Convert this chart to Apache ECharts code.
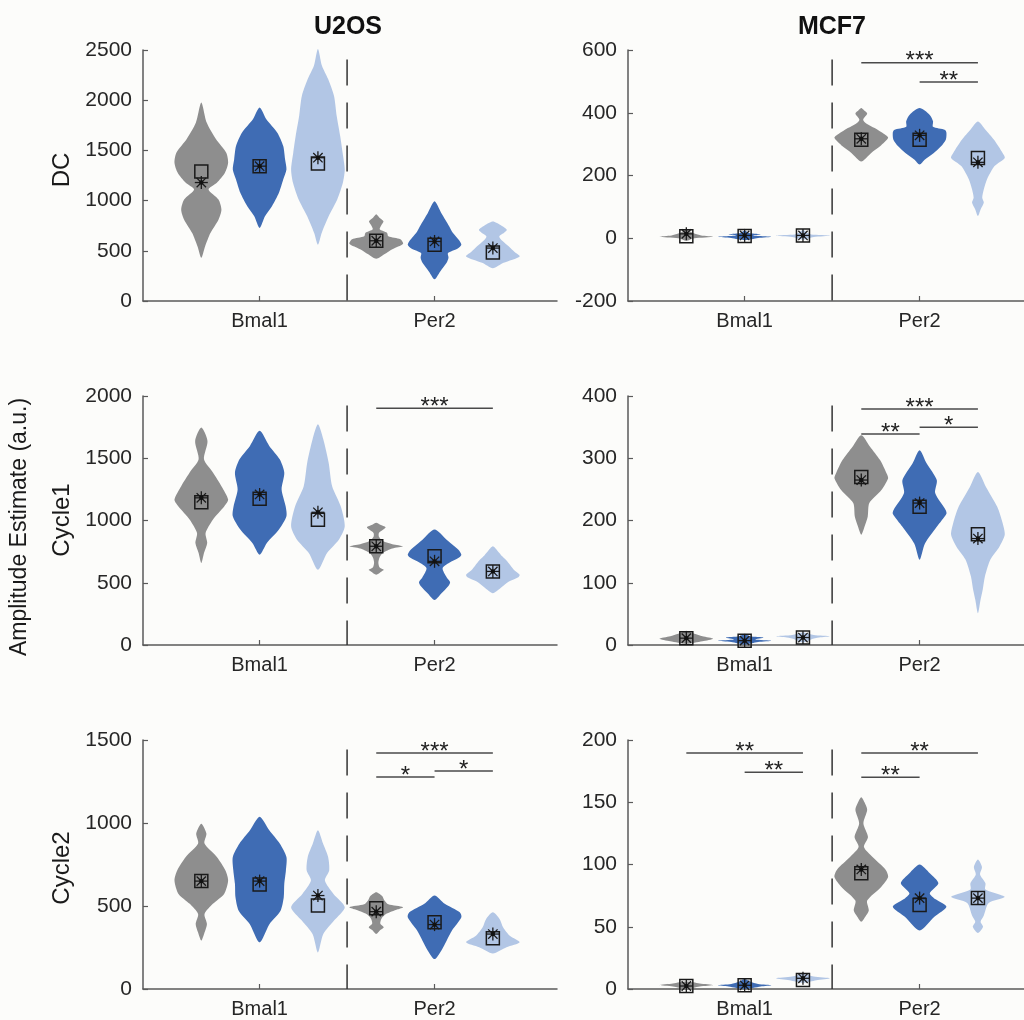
<!DOCTYPE html>
<html><head><meta charset="utf-8">
<script src="https://cdn.jsdelivr.net/npm/echarts@6/dist/echarts.min.js"></script>
<style>html,body{margin:0;padding:0;background:#fcfcfa}#c{width:1024px;height:1020px}</style>
</head><body><div id="c"></div>
<script>
// ---------- data ----------
const cellLines = ['U2OS', 'MCF7'];
const rowLabels = ['DC', 'Cycle1', 'Cycle2'];
const yLabel = 'Amplitude Estimate (a.u.)';
const genes = ['Bmal1', 'Per2'];
const genePos = [2, 5];
const violinPos = [1, 2, 3, 4, 5, 6];
const dividerPos = 3.5;

// y axis ranges [min, max, interval] per panel
const yRange_U2OS_DC = [0, 2500, 500];
const yRange_MCF7_DC = [-200, 600, 200];
const yRange_U2OS_C1 = [0, 2000, 500];
const yRange_MCF7_C1 = [0, 400, 100];
const yRange_U2OS_C2 = [0, 1500, 500];
const yRange_MCF7_C2 = [0, 200, 50];

// violin density profiles: [value, relative half width]
const violins_U2OS_DC = [
  [[430,0],[543,0.14],[677,0.34],[810,0.64],[910,0.75],[1010,0.64],[1110,0.27],[1177,0.58],[1277,0.88],[1377,1.0],[1477,0.93],[1610,0.55],[1777,0.2],[1977,0]],
  [[727,0],[843,0.2],[943,0.46],[1077,0.72],[1210,0.88],[1310,1.0],[1410,0.95],[1543,0.88],[1677,0.66],[1810,0.25],[1927,0]],
  [[560,0],[677,0.14],[843,0.4],[1010,0.72],[1177,0.93],[1310,1.0],[1477,0.92],[1643,0.83],[1843,0.7],[2043,0.6],[2210,0.38],[2343,0.15],[2510,0]],
  [[420,0],[465,0.3],[515,0.6],[570,1.0],[615,0.9],[645,0.45],[680,0.4],[715,0.13],[760,0.2],[795,0.27],[830,0.12],[865,0]],
  [[217,0],[290,0.2],[380,0.45],[430,0.52],[477,0.5],[520,0.85],[560,1.0],[610,0.9],[680,0.68],[743,0.55],[810,0.4],[877,0.25],[993,0]],
  [[327,0],[380,0.4],[443,1.0],[490,0.8],[543,0.6],[600,0.35],[643,0.24],[680,0.42],[710,0.52],[755,0.3],[793,0]]
];
const medians_U2OS_DC = [1290, 1343, 1370, 600, 560, 483];
const means_U2OS_DC   = [1180, 1343, 1427, 600, 593, 527];
const sig_U2OS_DC = [];

const violins_MCF7_DC = [
  [[-8,0],[0,0.3],[5,1.0],[9,0.55],[15,0.3],[24,0.1],[30,0]],
  [[-6,0],[1,0.5],[5,1.0],[9,0.3],[13,0.6],[16,0.2],[24,0]],
  [[-4,0],[4,0.4],[9,1.0],[12,0.3],[18,0.15],[26,0]],
  [[245,0],[272,0.37],[293,0.7],[320,1.0],[332,0.85],[351,0.5],[365,0.2],[378,0.07],[398,0.22],[408,0.1],[415,0]],
  [[235,0],[251,0.2],[272,0.53],[293,0.8],[315,0.98],[336,1.0],[345,0.95],[355,0.5],[373,0.5],[394,0.37],[415,0]],
  [[71,0],[92,0.1],[114,0.22],[129,0.16],[156,0.22],[188,0.34],[230,0.62],[256,1.0],[272,0.92],[314,0.6],[346,0.28],[372,0]]
];
const medians_MCF7_DC = [6, 7, 9, 314, 314, 256];
const means_MCF7_DC   = [14, 9, 9, 317, 328, 242];
const sig_MCF7_DC = [[4, 6, 559, '***'], [5, 6, 498, '**']];

const violins_U2OS_C1 = [
  [[658,0],[739,0.1],[819,0.22],[900,0.16],[1007,0.43],[1115,0.86],[1169,1.0],[1276,0.75],[1384,0.44],[1491,0.1],[1639,0.23],[1746,0]],
  [[725,0],[819,0.27],[927,0.72],[1034,1.0],[1115,0.97],[1249,0.82],[1384,0.92],[1491,0.75],[1599,0.36],[1720,0]],
  [[604,0],[739,0.34],[846,0.78],[954,1.0],[1115,0.85],[1276,0.53],[1464,0.4],[1652,0.2],[1773,0]],
  [[564,0],[590,0.2],[604,0.28],[625,0.12],[660,0.08],[700,0.12],[740,0.25],[775,0.6],[793,1.0],[810,0.6],[835,0.25],[870,0.1],[900,0.1],[925,0.25],[945,0.35],[965,0.15],[981,0]],
  [[362,0],[416,0.26],[470,0.5],[505,0.58],[545,0.45],[617,0.3],[660,0.55],[700,0.9],[725,1.0],[766,0.89],[810,0.65],[846,0.45],[927,0]],
  [[416,0],[460,0.3],[510,0.6],[545,0.95],[564,1.0],[600,0.8],[640,0.65],[680,0.5],[712,0.35],[750,0.2],[793,0]]
];
const medians_U2OS_C1 = [1147, 1174, 1007, 793, 712, 591];
const means_U2OS_C1   = [1182, 1209, 1066, 793, 672, 591];
const sig_U2OS_C1 = [[4, 6, 1902, '***']];

const violins_MCF7_C1 = [
  [[2,0],[6,0.6],[10,1.0],[14,0.6],[18,0.3],[23,0]],
  [[1,0],[5,0.5],[7,1.0],[9,0.4],[12,0.7],[14,0.2],[18,0]],
  [[4,0],[9,0.3],[12,0.6],[14,1.0],[16,0.4],[20,0]],
  [[177,0],[190,0.12],[206,0.24],[228,0.3],[249,0.75],[268,1.0],[276,0.94],[297,0.7],[319,0.32],[337,0]],
  [[137,0],[163,0.2],[190,0.64],[211,1.0],[217,0.97],[244,0.58],[265,0.64],[292,0.26],[313,0]],
  [[51,0],[73,0.1],[89,0.18],[110,0.26],[137,0.46],[158,0.8],[177,1.0],[196,0.92],[222,0.72],[254,0.3],[278,0]]
];
const medians_MCF7_C1 = [11, 7, 12, 270, 222, 178];
const means_MCF7_C1   = [11, 7, 12, 265, 228, 171];
const sig_MCF7_C1 = [[4, 6, 379, '***'], [4, 5, 339, '**'], [5, 6, 350, '*']];

const violins_U2OS_C2 = [
  [[291,0],[340,0.12],[392,0.21],[452,0.12],[513,0.43],[573,0.85],[654,1.0],[714,0.9],[795,0.58],[876,0.12],[936,0.19],[996,0]],
  [[281,0],[392,0.37],[472,0.78],[553,0.9],[634,0.92],[714,0.98],[795,1.0],[876,0.75],[956,0.36],[1037,0]],
  [[220,0],[331,0.2],[412,0.6],[493,1.0],[573,0.58],[654,0.26],[714,0.42],[795,0.38],[876,0.19],[956,0]],
  [[331,0],[355,0.15],[372,0.28],[395,0.15],[425,0.2],[450,0.35],[480,0.8],[493,1.0],[510,0.45],[535,0.3],[560,0.22],[583,0]],
  [[180,0],[231,0.25],[291,0.45],[352,0.65],[432,1.0],[462,0.94],[513,0.38],[563,0]],
  [[214,0],[251,0.51],[281,1.0],[321,0.63],[372,0.38],[422,0.25],[462,0]]
];
const medians_U2OS_C2 = [650, 630, 503, 486, 402, 305];
const means_U2OS_C2   = [650, 650, 563, 466, 388, 331];
const sig_U2OS_C2 = [[4, 6, 1422, '***'], [4, 5, 1277, '*'], [5, 6, 1313, '*']];

const violins_MCF7_C2 = [
  [[0,0],[2,0.5],[3.2,1.0],[4.5,0.5],[6,0]],
  [[0,0],[2,0.6],[3,1.0],[4,0.5],[6,0.2],[8,0]],
  [[5,0],[7,0.5],[8.6,1.0],[10,0.4],[12,0]],
  [[54,0],[58,0.15],[63,0.28],[71,0.22],[82,0.74],[90,1.0],[96,0.9],[106,0.42],[114,0.1],[122,0.25],[133,0.08],[144,0.22],[150,0.12],[154,0]],
  [[47,0],[58,0.55],[66,1.0],[72,0.6],[77,0.38],[85,0.7],[93,0.38],[100,0]],
  [[45,0],[50,0.19],[54,0.1],[59,0.22],[69,0.4],[74,1.0],[80,0.28],[85,0.28],[92,0.08],[98,0.15],[104,0]]
];
const medians_MCF7_C2 = [2.4, 3, 7.2, 93, 67.5, 73];
const means_MCF7_C2   = [2.4, 3, 8.6, 96, 73, 73];
const sig_MCF7_C2 = [[1, 3, 189.5, '**'], [2, 3, 174, '**'], [4, 6, 189.5, '**'], [4, 5, 170, '**']];

// ---------- styling / layout ----------
const FONT = '"Liberation Sans", Arial, Helvetica, sans-serif';
const violinColors = ['#8e8e8e', '#3f6cb4', '#b2c6e5'];
const HALF = 0.46;
const gridTops = [50, 396, 740];
const gridHeights = [251, 249, 249];
const colLayout = [{left: 143, width: 414, xmax: 7.1}, {left: 628, width: 396, xmax: 6.79}];

const panels = [
  {y: yRange_U2OS_DC, v: violins_U2OS_DC, md: medians_U2OS_DC, mn: means_U2OS_DC, sig: sig_U2OS_DC},
  {y: yRange_MCF7_DC, v: violins_MCF7_DC, md: medians_MCF7_DC, mn: means_MCF7_DC, sig: sig_MCF7_DC},
  {y: yRange_U2OS_C1, v: violins_U2OS_C1, md: medians_U2OS_C1, mn: means_U2OS_C1, sig: sig_U2OS_C1},
  {y: yRange_MCF7_C1, v: violins_MCF7_C1, md: medians_MCF7_C1, mn: means_MCF7_C1, sig: sig_MCF7_C1},
  {y: yRange_U2OS_C2, v: violins_U2OS_C2, md: medians_U2OS_C2, mn: means_U2OS_C2, sig: sig_U2OS_C2},
  {y: yRange_MCF7_C2, v: violins_MCF7_C2, md: medians_MCF7_C2, mn: means_MCF7_C2, sig: sig_MCF7_C2}
];

const grids = [], xAxes = [], yAxes = [], series = [];
panels.forEach((p, k) => {
  const row = Math.floor(k / 2), col = k % 2;
  const cl = colLayout[col];
  grids.push({left: cl.left, width: cl.width, top: gridTops[row], height: gridHeights[row], containLabel: false});
  xAxes.push({
    type: 'value', gridIndex: k, min: 0, max: cl.xmax,
    axisLine: {show: true, onZero: false, lineStyle: {color: '#5a5a5a', width: 1.5}},
    axisTick: {show: true, inside: true, length: 5, customValues: genePos, lineStyle: {color: '#5a5a5a', width: 1.2}},
    axisLabel: {show: true, customValues: genePos, margin: 10, fontSize: 20, fontFamily: FONT, color: '#262626',
      formatter: v => genes[genePos.indexOf(v)] || ''},
    splitLine: {show: false}
  });
  yAxes.push({
    type: 'value', gridIndex: k, min: p.y[0], max: p.y[1], interval: p.y[2],
    axisLine: {show: true, onZero: false, lineStyle: {color: '#5a5a5a', width: 1.5}},
    axisTick: {show: true, inside: true, length: 5, lineStyle: {color: '#5a5a5a', width: 1.2}},
    axisLabel: {margin: 11, fontSize: 21, fontFamily: FONT, color: '#262626', formatter: v => String(v)},
    splitLine: {show: false}
  });
  // divider dashed line
  const yTop = p.y[0] + 0.962 * (p.y[1] - p.y[0]);
  series.push({
    type: 'line', xAxisIndex: k, yAxisIndex: k, silent: true, symbol: 'none', z: 1,
    data: [[dividerPos, yTop], [dividerPos, p.y[0]]],
    lineStyle: {color: '#333', width: 1.5, type: [26, 17]}
  });
  // violins
  const profiles = p.v;
  series.push({
    type: 'custom', xAxisIndex: k, yAxisIndex: k, silent: true, z: 3,
    data: profiles.map((pr, i) => [violinPos[i], i]),
    encode: {x: 0, y: 1},
    renderItem: function (params, api) {
      const i = api.value(1), x0 = api.value(0);
      const prof = profiles[i];
      const right = prof.map(d => api.coord([x0 + d[1] * HALF, d[0]]));
      const left = prof.slice(1, -1).reverse().map(d => api.coord([x0 - d[1] * HALF, d[0]]));
      return {type: 'polygon', shape: {points: right.concat(left), smooth: 0.25}, style: {fill: violinColors[i % 3]}};
    }
  });
  // markers: square = median, asterisk = mean
  series.push({
    type: 'custom', xAxisIndex: k, yAxisIndex: k, silent: true, z: 5,
    data: p.md.map((m, i) => [violinPos[i], m, p.mn[i]]),
    encode: {x: 0, y: 1},
    renderItem: function (params, api) {
      const x0 = api.value(0);
      const pm = api.coord([x0, api.value(1)]);
      const pa = api.coord([x0, api.value(2)]);
      const s = 6.5, a = 6.5, d = a * 0.72;
      const ls = {stroke: '#1a1a1a', lineWidth: 1.3};
      return {type: 'group', children: [
        {type: 'rect', shape: {x: pm[0] - s, y: pm[1] - s, width: 2 * s, height: 2 * s}, style: {fill: 'none', stroke: '#1a1a1a', lineWidth: 1.5}},
        {type: 'line', shape: {x1: pa[0] - a, y1: pa[1], x2: pa[0] + a, y2: pa[1]}, style: ls},
        {type: 'line', shape: {x1: pa[0], y1: pa[1] - a, x2: pa[0], y2: pa[1] + a}, style: ls},
        {type: 'line', shape: {x1: pa[0] - d, y1: pa[1] - d, x2: pa[0] + d, y2: pa[1] + d}, style: ls},
        {type: 'line', shape: {x1: pa[0] - d, y1: pa[1] + d, x2: pa[0] + d, y2: pa[1] - d}, style: ls},
        {type: 'circle', shape: {cx: pa[0], cy: pa[1], r: 2.2}, style: {fill: '#111'}}
      ]};
    }
  });
  // significance bars
  const sig = p.sig;
  if (sig.length) {
    series.push({
      type: 'custom', xAxisIndex: k, yAxisIndex: k, silent: true, z: 6,
      data: sig.map(s => [s[0], s[1], s[2]]),
      encode: {x: [0, 1], y: 2},
      renderItem: function (params, api) {
        const p1 = api.coord([api.value(0), api.value(2)]);
        const p2 = api.coord([api.value(1), api.value(2)]);
        const label = sig[params.dataIndex][3];
        return {type: 'group', children: [
          {type: 'line', shape: {x1: p1[0], y1: p1[1], x2: p2[0], y2: p2[1]}, style: {stroke: '#4a4a4a', lineWidth: 1.5}},
          {type: 'text', style: {text: label, x: (p1[0] + p2[0]) / 2, y: p1[1] - 1,
            textAlign: 'center', textVerticalAlign: 'middle', align: 'center', verticalAlign: 'middle',
            fontSize: 24, fontFamily: FONT, fill: '#222'}}
        ]};
      }
    });
  }
});

const graphics = [
  {type: 'text', x: 348, y: 27, style: {text: cellLines[0], align: 'center', verticalAlign: 'middle', textAlign: 'center', textVerticalAlign: 'middle', fontSize: 25, fontWeight: 'bold', fontFamily: FONT, fill: '#111'}},
  {type: 'text', x: 832, y: 27, style: {text: cellLines[1], align: 'center', verticalAlign: 'middle', textAlign: 'center', textVerticalAlign: 'middle', fontSize: 25, fontWeight: 'bold', fontFamily: FONT, fill: '#111'}},
  {type: 'text', x: 20, y: 527, rotation: Math.PI / 2, style: {text: yLabel, align: 'center', verticalAlign: 'middle', textAlign: 'center', textVerticalAlign: 'middle', fontSize: 23, fontFamily: FONT, fill: '#1a1a1a'}}
];
const rowCenters = [170, 520, 868];
rowLabels.forEach((t, r) => graphics.push({type: 'text', x: 62, y: rowCenters[r], rotation: Math.PI / 2,
  style: {text: t, align: 'center', verticalAlign: 'middle', textAlign: 'center', textVerticalAlign: 'middle', fontSize: 24, fontFamily: FONT, fill: '#1a1a1a'}}));

const chart = echarts.init(document.getElementById('c'), null, {renderer: 'canvas'});
chart.setOption({
  backgroundColor: '#fcfcfa',
  animation: false,
  grid: grids, xAxis: xAxes, yAxis: yAxes, series: series,
  graphic: graphics
});
</script></body></html>
